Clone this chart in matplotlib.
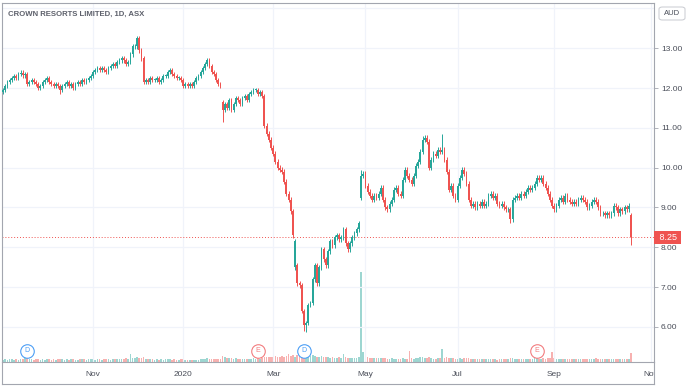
import numpy as np
import pandas as pd
import matplotlib
matplotlib.use('Agg')
from matplotlib import pyplot as plt
from matplotlib import transforms
from matplotlib.lines import Line2D
from matplotlib.patches import FancyBboxPatch

plt.rcParams['font.family'] = ['Liberation Sans', 'DejaVu Sans']

# ASX trading calendar
holidays = ['2019-12-25', '2019-12-26', '2020-01-01', '2020-01-27',
            '2020-04-10', '2020-04-13', '2020-06-08']

# daily closes (AUD)
close = [
    11.95, 12.05, 12.15, 12.2, 12.25, 12.3, 12.25, 12.35, 12.38, 12.32,
    12.35, 12.1, 12.15, 12.2, 12.15, 12.1, 12.0, 12.05, 12.15, 12.2,
    12.25, 12.15, 12.1, 12.05, 12.1, 12.05, 11.95, 12.05, 12.1, 12.15,
    12.05, 12.1, 12.0, 12.1, 12.15, 12.1, 12.2, 12.15, 12.2, 12.25,
    12.3, 12.4, 12.45, 12.5, 12.45, 12.5, 12.45, 12.4, 12.5, 12.55,
    12.6, 12.55, 12.65, 12.7, 12.75, 12.7, 12.6, 12.65, 12.85, 13.05,
    13.05, 13.25, 12.95, 12.75, 12.15, 12.2, 12.15, 12.25, 12.2, 12.2,
    12.25, 12.15, 12.2, 12.3, 12.3, 12.4, 12.45, 12.35, 12.3, 12.25,
    12.25, 12.2, 12.05, 12.1, 12.05, 12.1, 12.05, 12.15, 12.25, 12.3,
    12.4, 12.5, 12.6, 12.7, 12.55, 12.4, 12.35, 12.2, 12.1, 12.05,
    11.45, 11.6, 11.5, 11.7, 11.45, 11.6, 11.75, 11.7, 11.6, 11.75,
    11.8, 11.7, 11.85, 11.9, 11.95, 11.95, 11.85, 11.9, 11.8, 11.05,
    10.85, 10.7, 10.5, 10.35, 10.15, 10.0, 9.95, 9.9, 9.65, 9.35,
    9.2, 8.9, 8.3, 8.15, 7.1, 7.05, 6.4, 6.05, 6.1, 6.55,
    6.6, 7.2, 7.55, 7.1, 7.5, 7.95, 7.7, 7.55, 7.9, 8.15,
    8.05, 8.25, 8.3, 8.2, 8.25, 8.45, 8.1, 7.95, 8.1, 8.25,
    8.35, 8.45, 8.6, 9.8, 9.85, 9.55, 9.4, 9.3, 9.2, 9.3,
    9.25, 9.35, 9.5, 9.2, 9.0, 8.95, 9.1, 9.2, 9.45, 9.5,
    9.35, 9.3, 9.7, 9.95, 9.8, 9.7, 9.6, 9.8, 10.05, 10.15,
    10.4, 10.7, 10.75, 10.65, 10.0, 10.2, 10.35, 10.3, 10.45, 10.4,
    10.45, 10.2, 9.9, 9.45, 9.55, 9.3, 9.2, 9.55, 9.75, 9.95,
    9.85, 9.6, 9.2, 9.05, 9.1, 9.0, 9.1, 9.05, 9.15, 9.05,
    9.1, 9.3, 9.35, 9.25, 9.3, 9.1, 9.05, 9.1, 9.0, 8.95,
    8.95, 8.7, 9.2, 9.25, 9.3, 9.25, 9.35, 9.3, 9.4, 9.5,
    9.45, 9.5, 9.6, 9.75, 9.7, 9.75, 9.6, 9.5, 9.35, 9.2,
    9.05, 8.95, 9.05, 9.2, 9.25, 9.15, 9.3, 9.2, 9.15, 9.1,
    9.15, 9.1, 9.2, 9.25, 9.2, 9.15, 9.0, 9.05, 9.15, 9.2,
    9.15, 9.0, 8.85, 8.85, 8.8, 8.85, 8.8, 8.85, 9.05, 9.0,
    8.85, 8.95, 8.9, 9.0, 8.95, 9.05, 8.25,
]
# opens that gapped away from the previous close
gap_open = {0: 11.9, 100: 11.65, 133: 7.5, 134: 7.55, 163: 9.25, 286: 8.8}
# long wicks
wick_high = {61: 13.3, 163: 9.95, 191: 10.8, 200: 10.85}
wick_low = {26: 11.85, 100: 11.15, 137: 5.9, 138: 5.87, 231: 8.6, 286: 8.05}

# volume (millions)
volume = [
    1.6, 1.8, 1.5, 1.7, 2.0, 1.6, 1.9, 1.5, 1.7, 2.2,
    2.4, 3.2, 2.0, 1.7, 1.6, 1.8, 2.1, 1.5, 1.7, 1.6,
    1.9, 1.7, 1.5, 1.8, 1.6, 2.0, 2.3, 1.7, 1.5, 1.8,
    1.6, 1.9, 1.7, 1.5, 1.6, 1.8, 1.7, 2.0, 1.6, 1.9,
    2.1, 1.8, 1.6, 1.9, 1.7, 1.5, 1.8, 2.0, 1.7, 1.6,
    1.9, 1.7, 2.0, 1.8, 2.2, 1.9, 2.4, 2.1, 5.5, 2.6,
    2.8, 3.0, 2.5, 2.7, 3.4, 2.2, 1.9, 1.7, 1.8, 1.6,
    1.7, 1.5, 1.8, 1.6, 1.9, 2.1, 1.7, 1.6, 1.8, 1.5,
    1.6, 1.8, 2.0, 1.4, 1.2, 1.3, 1.1, 1.4, 1.6, 1.5,
    1.8, 2.0, 2.2, 2.4, 2.1, 1.9, 1.7, 1.8, 2.0, 1.9,
    4.2, 3.0, 2.6, 2.4, 2.7, 2.2, 2.5, 2.0, 2.1, 2.3,
    2.0, 2.2, 1.9, 2.1, 2.4, 2.2, 2.6, 2.3, 2.5, 3.6,
    3.4, 3.1, 3.6, 3.3, 3.8, 3.5, 3.2, 3.9, 3.4, 4.2,
    5.0, 3.8, 4.4, 3.6, 4.8, 3.9, 4.6, 5.2, 4.1, 3.7,
    3.9, 4.5, 3.8, 3.4, 3.6, 4.0, 3.2, 3.0, 3.3, 2.9,
    3.1, 2.8, 2.6, 3.0, 2.7, 5.2, 3.1, 2.8, 2.5, 2.7,
    2.9, 2.6, 3.0, 60.0, 6.5, 3.8, 3.2, 2.9, 2.7, 2.5,
    2.6, 2.4, 2.8, 2.5, 2.7, 2.3, 2.2, 2.4, 2.1, 2.3,
    2.2, 2.0, 2.5, 2.3, 2.1, 7.2, 2.4, 2.2, 2.6, 2.8,
    3.0, 3.2, 2.8, 2.5, 3.4, 2.6, 2.3, 2.2, 2.4, 2.7,
    8.8, 2.6, 3.0, 2.8, 2.4, 2.6, 2.3, 2.1, 2.5, 2.2,
    2.4, 2.6, 2.8, 2.2, 2.0, 1.9, 2.1, 1.8, 2.0, 1.9,
    1.8, 2.0, 1.7, 1.9, 1.8, 1.6, 1.8, 1.7, 1.9, 2.0,
    2.2, 2.8, 2.5, 2.1, 1.9, 1.8, 2.0, 1.7, 1.9, 2.1,
    2.0, 2.2, 2.4, 2.6, 2.3, 2.1, 2.5, 2.2, 2.8, 2.4,
    6.8, 2.6, 2.3, 2.0, 2.2, 1.9, 2.1, 1.8, 2.0, 1.9,
    1.8, 2.0, 1.7, 1.9, 1.8, 2.0, 2.2, 1.9, 1.7, 1.8,
    2.9, 2.0, 2.2, 1.9, 2.1, 1.8, 2.0, 1.9, 2.3, 2.1,
    2.0, 1.8, 2.1, 1.9, 2.0, 2.2, 5.8,
]
# dividend / earnings markers (bar index, letter)
events = [(11, 'D'), (116, 'E'), (137, 'D'), (243, 'E')]

UP = '#26a69a'
DOWN = '#ef5350'
GRID = '#f0f3fa'
EDGE = '#a3a6af'
TXT = '#4a4e59'

n = len(close)
days = pd.bdate_range('2019-09-05', '2020-11-30', freq='C', holidays=holidays)
c = np.array(close)
o = np.r_[c[0], c[:-1]]
for k, v in gap_open.items():
    o[k] = v
h = np.maximum(o, c) + 0.06
l = np.minimum(o, c) - 0.06
for k, v in wick_high.items():
    h[k] = v
for k, v in wick_low.items():
    l[k] = v
up = c >= o
cols = np.where(up, UP, DOWN)
x = np.arange(n)

fig = plt.figure(figsize=(6.9, 3.87), dpi=100)
rect = [2/690, 25/387, 652/690, 359/387]
axv = fig.add_axes(rect)
ax = fig.add_axes(rect)
ax.patch.set_alpha(0)

xlim = (-0.46, 296.4)
ylim = (5.121, 14.134)

# volume
axv.bar(x, volume, width=0.75, color=cols, alpha=0.45, linewidth=0)
axv.set_xlim(xlim)
axv.set_ylim(0, 239)
axv.axis('off')

# month grid + labels
month_idx = []
month_lab = []
for i in range(1, len(days)):
    if days[i].month != days[i-1].month and days[i].month % 2 == 1:
        month_idx.append(i)
        month_lab.append(str(days[i].year) if days[i].month == 1 else days[i].strftime('%b'))
for mi in month_idx:
    ax.axvline(mi, color=GRID, lw=0.9, zorder=0)
for yv in range(6, 15):
    ax.axhline(yv, color=GRID, lw=0.9, zorder=0)

clip = transforms.TransformedBbox(transforms.Bbox([[0, 0], [654/690, 1]]), fig.transFigure)
for mi, lab in zip(month_idx, month_lab):
    t = ax.text(mi, -12/359, lab, transform=ax.get_xaxis_transform(),
                ha='center', va='center', fontsize=6, color=TXT)
    t.set_clip_box(clip)
    t.set_clip_on(True)

# candles
ax.vlines(x, l, h, colors=cols, lw=0.7, zorder=2)
ax.bar(x, np.maximum(np.abs(c - o), 0.015), bottom=np.minimum(o, c),
       width=0.8, color=cols, linewidth=0, zorder=3)

# last price line and label
last = c[-1]
ax.axhline(last, color=DOWN, lw=0.7, ls=(0, (1, 2)), zorder=1)
ax.text(1.004, last, f' {last:.2f} ', transform=ax.get_yaxis_transform(),
        ha='left', va='center', fontsize=6.5, color='white', clip_on=False,
        bbox=dict(boxstyle='square,pad=0.25', fc=DOWN, ec='none'), zorder=5)

# events
for bi, letter in events:
    ec = '#4c9ef5' if letter == 'D' else '#f27c7f'
    ax.scatter(bi, 0.031, s=95, facecolor='white', edgecolor=ec, lw=0.8,
               transform=ax.get_xaxis_transform(), zorder=6, clip_on=False)
    ax.text(bi, 0.031, letter, transform=ax.get_xaxis_transform(), ha='center',
            va='center', fontsize=5, color=ec, zorder=7)

ax.set_xlim(xlim)
ax.set_ylim(ylim)
ax.set_xticks([])
ax.yaxis.tick_right()
ax.set_yticks(range(6, 14))
ax.set_yticklabels([f'{v:.2f}' for v in range(6, 14)])
ax.tick_params(axis='y', length=3, width=0.6, color=EDGE, labelsize=6,
               labelcolor=TXT, pad=2)
for s in ax.spines.values():
    s.set_color(EDGE)
    s.set_linewidth(0.8)

# time-scale frame
for xs, ys in [((2, 654), (384, 384)), ((654, 654), (362, 384)), ((2, 2), (362, 384))]:
    fig.add_artist(Line2D([v/690 for v in xs], [1 - v/387 for v in ys],
                          color=EDGE, lw=0.8))

fig.text(8/690, 1 - 14/387, 'CROWN RESORTS LIMITED, 1D, ASX', fontsize=5.6,
         fontweight='bold', color='#5d606b', va='center', ha='left')

# currency badge
fig.add_artist(FancyBboxPatch((659/690, 1 - 20/387), 26/690, 13/387,
                              boxstyle='round,pad=0,rounding_size=0.005',
                              transform=fig.transFigure, fc='white', ec='#c8cad0', lw=0.7))
fig.text(672/690, 1 - 13.5/387, 'AUD', fontsize=5.5, color=TXT, ha='center', va='center')

fig.savefig('out.png', dpi=100)
